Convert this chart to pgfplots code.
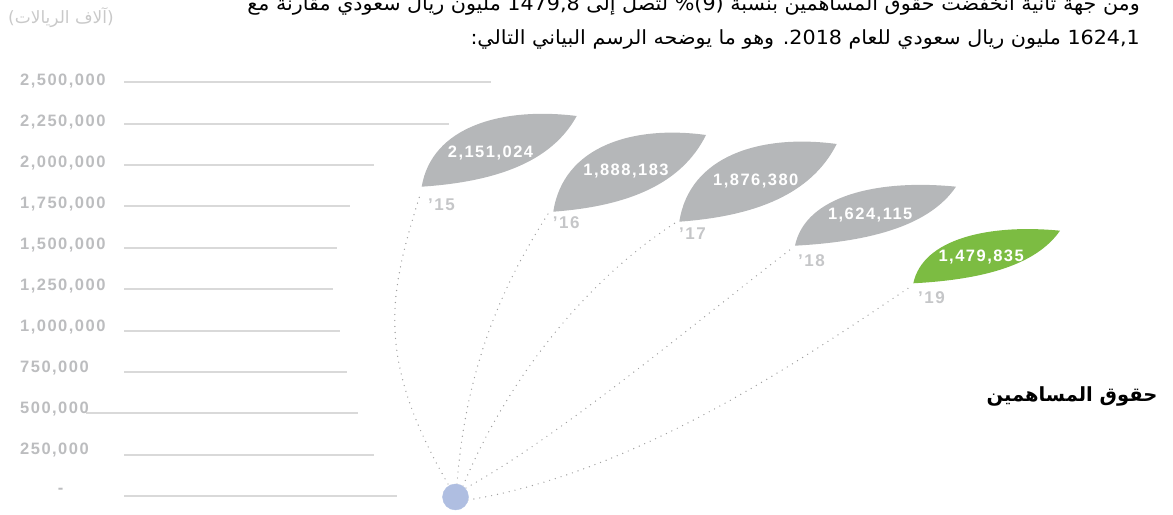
\documentclass[border=0pt]{standalone}
\usepackage{fontspec}
\usepackage{pgfplots}
\pgfplotsset{compat=1.18}
\TeXXeTstate=1
\setmainfont{Liberation Sans}
\newfontfamily\numfont[LetterSpace=9]{Liberation Sans}
\newfontfamily\arabicfont[Script=Arabic]{DejaVu Sans}
\newfontfamily\arabicwide[Script=Arabic, FakeStretch=1.06]{DejaVu Sans}
\definecolor{gridc}{RGB}{217,217,217}
\definecolor{tickc}{RGB}{188,189,191}
\definecolor{leafgray}{RGB}{181,183,185}
\definecolor{leafgreen}{RGB}{124,188,66}
\definecolor{yearc}{RGB}{197,198,200}
\definecolor{dotc}{RGB}{175,190,225}
\definecolor{curvec}{RGB}{160,160,160}
\definecolor{lbl}{RGB}{201,201,201}
\newcommand\defleaf[3]{%
 \pgfdeclareplotmark{#1}{%
  \pgfpathmoveto{\pgfpointorigin}%
  \pgfpathcurveto{\pgfpoint{0.484*#2pt}{0.071*#3pt}}{\pgfpoint{0.839*#2pt}{0.354*#3pt}}{\pgfpoint{#2pt}{#3pt}}%
  \pgfpathcurveto{\pgfpoint{0.516*#2pt}{1.132*#3pt}}{\pgfpoint{0.0645*#2pt}{0.849*#3pt}}{\pgfpointorigin}%
  \pgfusepathqfill}}
\defleaf{leafA}{155}{70.7}
\defleaf{leafB}{152.7}{76.7}
\defleaf{leafC}{157.4}{77.7}
\defleaf{leafD}{161}{59}
\defleaf{leafE}{146.7}{52.6}
\tikzset{tl/.style={anchor=west, inner sep=0pt, text=tickc, font=\numfont\bfseries\fontsize{16.5}{18}\selectfont},
 vl/.style={anchor=center, inner sep=0pt, text=white, font=\numfont\bfseries\fontsize{16.5}{18}\selectfont},
 yl/.style={anchor=west, inner sep=0pt, text=yearc, font=\numfont\bfseries\fontsize{17}{18}\selectfont},
 dc/.style={curvec, line width=1.4pt, dash pattern=on 0pt off 6pt, line cap=round}}
\begin{document}
\begin{tikzpicture}
\begin{axis}[
  width=1173pt, height=515pt, scale only axis,
  xmin=0, xmax=1173, ymin=-112.92, ymax=2996.96,
  hide axis, clip=false,
]
% gridlines (y in thousands of SAR)
\addplot[gridc, line width=2pt] coordinates {(124,0) (396.7,0)};
\addplot[gridc, line width=2pt] coordinates {(124,250) (374.3,250)};
\addplot[gridc, line width=2pt] coordinates {(86,500) (358.3,500)};
\addplot[gridc, line width=2pt] coordinates {(124,750) (346.7,750)};
\addplot[gridc, line width=2pt] coordinates {(124,1000) (339.7,1000)};
\addplot[gridc, line width=2pt] coordinates {(124,1250) (333.3,1250)};
\addplot[gridc, line width=2pt] coordinates {(124,1500) (336.7,1500)};
\addplot[gridc, line width=2pt] coordinates {(124,1750) (350,1750)};
\addplot[gridc, line width=2pt] coordinates {(124,2000) (373.7,2000)};
\addplot[gridc, line width=2pt] coordinates {(124,2250) (448.7,2250)};
\addplot[gridc, line width=2pt] coordinates {(124,2500) (491,2500)};
% tick labels
\node[tl] at (axis cs:20,2507.2) {2,500,000};
\node[tl] at (axis cs:20,2259.6) {2,250,000};
\node[tl] at (axis cs:20,2012.1) {2,000,000};
\node[tl] at (axis cs:20,1764.5) {1,750,000};
\node[tl] at (axis cs:20,1516.9) {1,500,000};
\node[tl] at (axis cs:20,1269.9) {1,250,000};
\node[tl] at (axis cs:20,1022.3) {1,000,000};
\node[tl] at (axis cs:20,774.8) {750,000};
\node[tl] at (axis cs:20,527.2) {500,000};
\node[tl] at (axis cs:20,279.6) {250,000};
\node[tl, anchor=center] at (axis cs:60.5,32) {-};
% dotted connectors
\draw[dc] (axis cs:448,74.27) .. controls (axis cs:373,859.29) and (axis cs:390.6,1242.14) .. (axis cs:420,1819.43);
\draw[dc] (axis cs:457,74.27) .. controls (axis cs:466,798.91) and (axis cs:504.8,1298.90) .. (axis cs:548,1704.70);
\draw[dc] (axis cs:463,62.20) .. controls (axis cs:501,620.77) and (axis cs:575,1257.84) .. (axis cs:675,1650.35);
\draw[dc] (axis cs:466,50.12) .. controls (axis cs:562,370.17) and (axis cs:703.7,1089.97) .. (axis cs:791,1493.35);
\draw[dc] (axis cs:468,-22.34) .. controls (axis cs:635.8,141.91) and (axis cs:802,824.27) .. (axis cs:910,1263.88);
% origin dot
\addplot[only marks, mark=*, mark size=13pt, mark options={fill=dotc, draw=dotc}] coordinates {(455.5,-4.23)};
% leaves
\addplot[only marks, mark=leafA, mark options={fill=leafgray, draw=none}] coordinates {(421.7,1869.55)};
\addplot[only marks, mark=leafB, mark options={fill=leafgray, draw=none}] coordinates {(553.3,1718.59)};
\addplot[only marks, mark=leafC, mark options={fill=leafgray, draw=none}] coordinates {(679.3,1658.20)};
\addplot[only marks, mark=leafD, mark options={fill=leafgray, draw=none}] coordinates {(795.0,1513.27)};
\addplot[only marks, mark=leafE, mark options={fill=leafgreen, draw=none}] coordinates {(913.3,1286.22)};
% label positions
\coordinate (v15) at (axis cs:490.5,2074.86);
\coordinate (v16) at (axis cs:626.0,1966.17);
\coordinate (v17) at (axis cs:755.8,1905.78);
\coordinate (v18) at (axis cs:870.2,1700.47);
\coordinate (v19) at (axis cs:981.2,1443.23);
\coordinate (y15) at (axis cs:428,1759.04);
\coordinate (y16) at (axis cs:552.7,1654.58);
\coordinate (y17) at (axis cs:679,1585.74);
\coordinate (y18) at (axis cs:798,1420.88);
\coordinate (y19) at (axis cs:918,1201.68);
\coordinate (tl) at (axis cs:61,2888.26);
\coordinate (tt) at (axis cs:1072,601.44);
\coordinate (p1) at (axis cs:1140,2933.55);
\coordinate (p2) at (axis cs:1140,2725.22);
\end{axis}
% values
\node[vl] at (v15) {2,151,024};
\node[vl] at (v16) {1,888,183};
\node[vl] at (v17) {1,876,380};
\node[vl] at (v18) {1,624,115};
\node[vl] at (v19) {1,479,835};
% years
\node[yl] at (y15) {’15};
\node[yl] at (y16) {’16};
\node[yl] at (y17) {’17};
\node[yl] at (y18) {’18};
\node[yl] at (y19) {’19};
% texts
\node[anchor=center, inner sep=0pt, text=lbl, font=\arabicfont\fontsize{17}{20}\selectfont] at (tl) {\beginR(آلاف الريالات)\endR};
\node[anchor=center, inner sep=0pt, text=black, font=\arabicfont\bfseries\fontsize{19.5}{22}\selectfont] at (tt) {\beginR حقوق المساهمين\endR};
\node[anchor=base east, inner sep=0pt, text=black, font=\arabicwide\fontsize{19.5}{22}\selectfont] at (p1) {\beginR ومن جهة ثانية انخفضت حقوق المساهمين بنسبة \beginL(9)\%\endL{} لتصل إلى \beginL 1479,8\endL{} مليون ريال سعودي مقارنة مع\endR};
\node[anchor=base east, inner sep=0pt, text=black, font=\arabicwide\fontsize{19.5}{22}\selectfont] at (p2) {\beginR\beginL 1624,1\endL{} مليون ريال سعودي للعام \beginL 2018\endL. وهو ما يوضحه الرسم البياني التالي:\endR};
\pgfresetboundingbox
\path (current axis.south west) rectangle (current axis.north east);
\end{tikzpicture}
\end{document}
